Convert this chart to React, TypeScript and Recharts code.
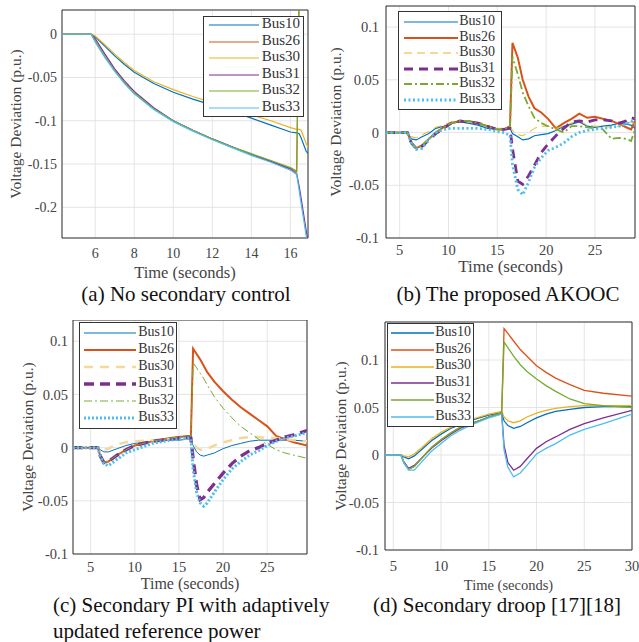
import React from 'react';
import { LineChart, Line, XAxis, YAxis, CartesianGrid, ReferenceArea } from 'recharts';

const BUSES = ['Bus10', 'Bus26', 'Bus30', 'Bus31', 'Bus32', 'Bus33'];
const COLORS: Record<string, string> = {
  Bus10: '#0072BD',
  Bus26: '#D95319',
  Bus30: '#EDB120',
  Bus31: '#7E2F8E',
  Bus32: '#77AC30',
  Bus33: '#4DBEEE',
};

// (a) No secondary control
const aTime = [4.3, 5.8, 6.0, 6.5, 7.0, 7.5, 8.0, 9.0, 10.0, 11.0, 12.0, 13.0, 14.0, 15.0, 16.0, 16.32, 16.45, 16.55, 16.8, 16.9];
const aBus10 = [0, 0, -0.003, -0.014, -0.025, -0.035, -0.044, -0.057, -0.067, -0.075, -0.082, -0.089, -0.097, -0.105, -0.113, -0.114, -0.115, -0.12, -0.135, -0.138];
const aBus26 = [0, 0, -0.008, -0.026, -0.042, -0.056, -0.068, -0.086, -0.1, -0.111, -0.121, -0.13, -0.139, -0.147, -0.155, -0.159, 0.05, 0.07, 0.08, 0.08];
const aBus30 = [0, 0, -0.002, -0.012, -0.023, -0.033, -0.042, -0.055, -0.064, -0.072, -0.079, -0.086, -0.093, -0.1, -0.108, -0.11, -0.11, -0.111, -0.126, -0.131];
const aBus31 = [0, 0, -0.005, -0.023, -0.04, -0.054, -0.066, -0.085, -0.1, -0.111, -0.121, -0.13, -0.139, -0.147, -0.156, -0.161, -0.176, -0.19, -0.226, -0.24];
const aBus32 = [0, 0, -0.008, -0.026, -0.042, -0.056, -0.068, -0.086, -0.1, -0.111, -0.121, -0.13, -0.138, -0.146, -0.154, -0.158, 0.06, 0.07, 0.08, 0.08];
const aBus33 = [0, 0, -0.009, -0.027, -0.043, -0.057, -0.069, -0.087, -0.101, -0.112, -0.122, -0.131, -0.14, -0.148, -0.157, -0.162, -0.181, -0.196, -0.232, -0.247];

// (b) The proposed AKOOC
const bTime = [3.6, 5.8, 6.2, 6.7, 7.3, 8.0, 8.7, 9.5, 10.3, 11.2, 12.0, 13.0, 14.0, 15.0, 15.7, 16.3, 16.55, 17.1, 17.6, 18.2, 18.8, 19.5, 20.2, 21.0, 21.8, 22.6, 23.4, 24.2, 25.0, 25.8, 26.7, 27.5, 28.2, 28.7, 29.1];
const bBus10 = [0, 0, -0.006, -0.007, -0.004, -0.001, 0.004, 0.006, 0.009, 0.01, 0.009, 0.007, 0.004, 0.003, 0.003, 0.004, -0.001, -0.004, -0.007, -0.006, -0.003, -0.002, -0.001, 0.002, 0.006, 0.008, 0.01, 0.006, 0.005, 0.006, 0.007, 0.009, 0.008, 0.007, 0.004];
const bBus26 = [0, 0, -0.01, -0.015, -0.012, -0.006, 0, 0.005, 0.009, 0.011, 0.011, 0.009, 0.006, 0.003, 0.003, 0.006, 0.085, 0.071, 0.05, 0.034, 0.023, 0.019, 0.013, 0.004, 0.009, 0.013, 0.018, 0.014, 0.015, 0.013, 0.011, 0.008, 0.005, 0.003, 0.011];
const bBus30 = [0, 0, -0.004, -0.005, -0.002, 0.001, 0.005, 0.007, 0.01, 0.011, 0.01, 0.008, 0.005, 0.004, 0.004, 0.006, 0.002, -0.002, -0.003, 0, 0.004, 0.006, 0.006, 0.004, 0.006, 0.009, 0.011, 0.007, 0.006, 0.006, 0.005, 0.006, 0.009, 0.01, 0.008];
const bBus31 = [0, 0, -0.01, -0.015, -0.013, -0.007, -0.001, 0.004, 0.009, 0.011, 0.01, 0.009, 0.006, 0.003, 0.003, 0.004, -0.015, -0.046, -0.049, -0.041, -0.031, -0.019, -0.011, -0.003, 0.004, 0.01, 0.011, 0.01, 0.012, 0.012, 0.011, 0.009, 0.011, 0.014, 0.013];
const bBus32 = [0, 0, -0.01, -0.015, -0.012, -0.006, 0, 0.005, 0.009, 0.011, 0.011, 0.009, 0.006, 0.003, 0.003, 0.006, 0.072, 0.055, 0.038, 0.025, 0.014, 0.009, 0.006, 0.003, 0, 0.006, 0.006, 0.005, 0.004, 0.003, -0.006, -0.005, -0.006, -0.008, 0.003];
const bBus33 = [0, 0, -0.01, -0.016, -0.015, -0.006, 0, 0.003, 0.004, 0.004, 0.004, 0.004, 0.003, 0.001, 0, -0.003, -0.03, -0.054, -0.059, -0.047, -0.033, -0.024, -0.017, -0.014, -0.01, -0.004, 0, 0.002, 0.003, 0.004, 0.005, 0.006, 0.008, 0.01, 0.013];

// (c) Secondary PI with adaptively updated reference power
const cTime = [3, 5.8, 6.1, 6.5, 7.0, 8.0, 9.0, 10.0, 12.0, 14.0, 15.0, 16.0, 16.35, 16.6, 17.0, 17.4, 17.8, 18.2, 19.0, 20.0, 21.0, 22.0, 23.0, 24.0, 25.0, 26.0, 27.0, 28.0, 29.5];
const cBus10 = [0, 0, -0.002, -0.004, -0.004, -0.001, 0.002, 0.004, 0.006, 0.007, 0.007, 0.008, 0.008, 0.002, -0.004, -0.007, -0.008, -0.007, -0.005, -0.001, 0.002, 0.004, 0.006, 0.007, 0.007, 0.007, 0.007, 0.007, 0.006];
const cBus26 = [0, 0, -0.008, -0.014, -0.013, -0.007, -0.002, 0.002, 0.006, 0.009, 0.01, 0.011, 0.011, 0.093, 0.088, 0.083, 0.077, 0.071, 0.062, 0.053, 0.045, 0.038, 0.032, 0.026, 0.02, 0.011, 0.008, 0.005, 0.002];
const cBus30 = [0, 0, -0.001, -0.002, -0.001, 0.003, 0.005, 0.006, 0.007, 0.008, 0.008, 0.009, 0.009, 0.004, 0, -0.002, -0.002, -0.001, 0.002, 0.005, 0.007, 0.009, 0.01, 0.01, 0.009, 0.009, 0.008, 0.007, 0.006];
const cBus31 = [0, 0, -0.008, -0.014, -0.013, -0.007, -0.002, 0.002, 0.006, 0.008, 0.009, 0.01, 0.009, -0.01, -0.035, -0.049, -0.047, -0.042, -0.034, -0.024, -0.015, -0.008, -0.003, 0, 0.004, 0.007, 0.01, 0.012, 0.016];
const cBus32 = [0, 0, -0.008, -0.014, -0.013, -0.007, -0.002, 0.002, 0.006, 0.009, 0.01, 0.011, 0.011, 0.08, 0.075, 0.07, 0.065, 0.059, 0.048, 0.037, 0.028, 0.02, 0.014, 0.008, 0.003, -0.002, -0.005, -0.007, -0.01];
const cBus33 = [0, 0, -0.008, -0.015, -0.017, -0.011, -0.005, -0.002, 0.004, 0.007, 0.008, 0.009, 0.008, -0.02, -0.042, -0.052, -0.055, -0.052, -0.042, -0.03, -0.02, -0.013, -0.007, -0.003, 0.002, 0.006, 0.009, 0.011, 0.014];

// (d) Secondary droop
const dTime = [4.1, 5.8, 6.1, 6.6, 7.2, 8.0, 9.0, 10.0, 11.0, 12.0, 13.0, 14.0, 15.0, 16.0, 16.35, 16.6, 17.0, 17.6, 18.3, 19.0, 20.0, 21.0, 22.0, 23.5, 25.0, 27.0, 30.0];
const dBus10 = [0, 0, -0.002, -0.004, -0.001, 0.006, 0.015, 0.022, 0.028, 0.032, 0.036, 0.039, 0.042, 0.044, 0.045, 0.036, 0.031, 0.028, 0.03, 0.034, 0.039, 0.043, 0.046, 0.048, 0.05, 0.051, 0.051];
const dBus26 = [0, 0, -0.008, -0.015, -0.012, -0.003, 0.008, 0.016, 0.023, 0.029, 0.033, 0.036, 0.04, 0.043, 0.044, 0.133, 0.128, 0.12, 0.111, 0.104, 0.094, 0.087, 0.081, 0.074, 0.068, 0.065, 0.062];
const dBus30 = [0, 0, -0.001, -0.002, 0.001, 0.008, 0.017, 0.024, 0.029, 0.033, 0.037, 0.04, 0.043, 0.045, 0.046, 0.04, 0.036, 0.034, 0.036, 0.04, 0.044, 0.047, 0.049, 0.051, 0.052, 0.052, 0.052];
const dBus31 = [0, 0, -0.007, -0.014, -0.011, -0.003, 0.007, 0.015, 0.022, 0.028, 0.032, 0.036, 0.04, 0.043, 0.044, 0.01, -0.008, -0.016, -0.012, -0.004, 0.007, 0.014, 0.019, 0.027, 0.033, 0.039, 0.047];
const dBus32 = [0, 0, -0.008, -0.015, -0.012, -0.003, 0.008, 0.016, 0.023, 0.029, 0.033, 0.036, 0.04, 0.043, 0.044, 0.119, 0.113, 0.104, 0.095, 0.088, 0.08, 0.073, 0.067, 0.059, 0.054, 0.052, 0.05];
const dBus33 = [0, 0, -0.008, -0.016, -0.016, -0.007, 0.004, 0.012, 0.02, 0.026, 0.031, 0.035, 0.039, 0.042, 0.043, 0.005, -0.013, -0.023, -0.019, -0.011, 0.001, 0.007, 0.012, 0.021, 0.027, 0.033, 0.043];

const tickBC = [5, 10, 15, 20, 25];
const tickD = [5, 10, 15, 20, 25, 30];
const tickA = [6, 8, 10, 12, 14, 16];
const yTicksA = [-0.2, -0.15, -0.1, -0.05, 0];
const yTicksBCD = [-0.1, -0.05, 0, 0.05, 0.1];

type Style = { w: number; dash?: string; color?: string };

const toRows = (time: number[], series: number[][]) =>
  time.map((t, i) => {
    const row: Record<string, number> = { t };
    BUSES.forEach((b, k) => (row[b] = series[k][i]));
    return row;
  });

const solid = (w: number): Record<string, Style> =>
  Object.fromEntries(BUSES.map((b) => [b, { w }]));

const stylesB: Record<string, Style> = {
  Bus10: { w: 1.2 },
  Bus26: { w: 2 },
  Bus30: { w: 1, dash: '8 5' },
  Bus31: { w: 2.8, dash: '9 6' },
  Bus32: { w: 1.8, dash: '8 3 2 3' },
  Bus33: { w: 2.8, dash: '2 2.5' },
};
const stylesC: Record<string, Style> = {
  Bus10: { w: 1 },
  Bus26: { w: 2 },
  Bus30: { w: 2.5, dash: '9 7', color: '#F5D79E' },
  Bus31: { w: 3.3, dash: '10 6' },
  Bus32: { w: 1, dash: '8 3 2 3' },
  Bus33: { w: 3, dash: '2 2' },
};

const fmt = (v: number) => (Math.abs(v) < 1e-9 ? '0' : String(+v.toFixed(3)));

const FONT = '"Liberation Serif", "DejaVu Serif", "Times New Roman", Times, serif';
const TXT = '#444';
const Y_W = 50;

interface PanelProps {
  box: { left: number; top: number; width: number; height: number };
  plot: { left: number; top: number; right: number; bottom: number };
  rows: Record<string, number>[];
  styles: Record<string, Style>;
  xDomain: [number, number];
  xTicks: number[];
  yDomain: [number, number];
  yTicks: number[];
  tickFont: number;
  xTickGap: number;
  yTickGap: number;
  xTitleH: number;
  xTitleFont: number;
  yTitleX: number;
  legend: { left: number; top: number; width: number; height: number; row0: number; step: number; l1: number; l2: number; textRight: number; font: number };
}

const Panel = (p: PanelProps) => {
  const { box, plot, legend: lg } = p;
  const margin = {
    left: plot.left - box.left - Y_W,
    top: plot.top - box.top,
    right: box.left + box.width - plot.right,
    bottom: box.top + box.height - plot.bottom - p.xTitleH,
  };
  return (
    <div style={{ position: 'absolute', left: box.left, top: box.top, width: box.width, height: box.height }}>
      <LineChart width={box.width} height={box.height} data={p.rows} margin={margin} style={{ fontFamily: FONT }}>
        <CartesianGrid stroke="#dedede" strokeWidth={0.8} />
        <XAxis
          dataKey="t"
          type="number"
          domain={p.xDomain}
          ticks={p.xTicks}
          interval={0}
          allowDataOverflow
          axisLine={false}
          tickLine={false}
          tickSize={0}
          tickMargin={p.xTickGap}
          height={p.xTitleH}
          tick={{ fontSize: p.tickFont, fill: TXT, fontFamily: FONT }}
          label={{ value: 'Time (seconds)', position: 'insideBottom', offset: 0, fontSize: p.xTitleFont, fill: TXT, fontFamily: FONT }}
        />
        <YAxis
          type="number"
          domain={p.yDomain}
          ticks={p.yTicks}
          interval={0}
          allowDataOverflow
          axisLine={false}
          tickLine={false}
          tickSize={0}
          tickMargin={p.yTickGap}
          width={Y_W}
          tickFormatter={fmt}
          tick={{ fontSize: p.tickFont, fill: TXT, fontFamily: FONT }}
          label={{
            value: 'Voltage Deviation (p.u.)',
            angle: -90,
            position: 'insideLeft',
            offset: p.yTitleX - (plot.left - Y_W),
            fontSize: 15.5,
            fill: TXT,
            fontFamily: FONT,
            style: { textAnchor: 'middle' },
          }}
        />
        {BUSES.map((b) => {
          const s = p.styles[b];
          return (
            <Line
              key={b}
              dataKey={b}
              type="linear"
              stroke={s.color || COLORS[b]}
              strokeWidth={s.w}
              strokeDasharray={s.dash}
              dot={false}
              activeDot={false}
              isAnimationActive={false}
            />
          );
        })}
        <ReferenceArea x1={p.xDomain[0]} x2={p.xDomain[1]} y1={p.yDomain[0]} y2={p.yDomain[1]} fill="none" stroke="#333" strokeWidth={1} fillOpacity={0} />
      </LineChart>
      <div
        style={{
          position: 'absolute',
          left: lg.left - box.left,
          top: lg.top - box.top,
          width: lg.width,
          height: lg.height,
          boxSizing: 'border-box',
          border: '1px solid #333',
          background: '#fff',
        }}
      >
        {BUSES.map((b, i) => {
          const s = p.styles[b];
          const y = lg.row0 - lg.top + i * lg.step - 1;
          return (
            <React.Fragment key={b}>
              <svg style={{ position: 'absolute', left: 0, top: y - 5 }} width={lg.width} height={10}>
                <line x1={lg.l1} x2={lg.l2} y1={5} y2={5} stroke={s.color || COLORS[b]} strokeWidth={s.w} strokeDasharray={s.dash} />
              </svg>
              <div
                style={{
                  position: 'absolute',
                  right: lg.width - lg.textRight,
                  top: y - lg.font * 0.58,
                  fontFamily: FONT,
                  fontSize: lg.font,
                  lineHeight: `${lg.font}px`,
                  color: '#333',
                  whiteSpace: 'nowrap',
                }}
              >
                {b}
              </div>
            </React.Fragment>
          );
        })}
      </div>
    </div>
  );
};

const Caption = ({ text, cx, left, cy, size = 21 }: { text: string; cx?: number; left?: number; cy: number; size?: number }) => (
  <div
    style={{
      position: 'absolute',
      left: cx !== undefined ? cx - 200 : left,
      width: cx !== undefined ? 400 : undefined,
      textAlign: cx !== undefined ? 'center' : 'left',
      top: cy - size * 0.55,
      fontFamily: FONT,
      fontSize: size,
      lineHeight: `${size}px`,
      color: '#111',
      whiteSpace: 'nowrap',
    }}
  >
    {text}
  </div>
);

export default function App() {
  const rowsA = toRows(aTime, [aBus10, aBus26, aBus30, aBus31, aBus32, aBus33]);
  const rowsB = toRows(bTime, [bBus10, bBus26, bBus30, bBus31, bBus32, bBus33]);
  const rowsC = toRows(cTime, [cBus10, cBus26, cBus30, cBus31, cBus32, cBus33]);
  const rowsD = toRows(dTime, [dBus10, dBus26, dBus30, dBus31, dBus32, dBus33]);

  return (
    <div style={{ position: 'absolute', left: 0, top: 0, width: 639, height: 642, background: '#fff', overflow: 'hidden', fontFamily: FONT }}>
      <Panel
        box={{ left: 0, top: 0, width: 320, height: 320 }}
        plot={{ left: 62, top: 10, right: 308, bottom: 238 }}
        rows={rowsA}
        styles={solid(1.2)}
        xDomain={[4.3, 16.9]}
        xTicks={tickA}
        yDomain={[-0.2355, 0.028]}
        yTicks={yTicksA}
        tickFont={14}
        xTickGap={10}
        yTickGap={5}
        xTitleH={40}
        xTitleFont={16.5}
        yTitleX={15}
        legend={{ left: 203, top: 16, width: 101, height: 101, row0: 25, step: 16.5, l1: 5, l2: 55, textRight: 98, font: 15 }}
      />
      <Panel
        box={{ left: 320, top: 0, width: 319, height: 320 }}
        plot={{ left: 386, top: 6, right: 635, bottom: 238 }}
        rows={rowsB}
        styles={stylesB}
        xDomain={[3.6, 29.1]}
        xTicks={tickBC}
        yDomain={[-0.1, 0.12]}
        yTicks={yTicksBCD}
        tickFont={14.5}
        xTickGap={7}
        yTickGap={7}
        xTitleH={34}
        xTitleFont={17}
        yTitleX={335}
        legend={{ left: 398, top: 11, width: 104, height: 99, row0: 22.3, step: 15.5, l1: 5, l2: 59, textRight: 98, font: 14 }}
      />
      <Panel
        box={{ left: 0, top: 320, width: 320, height: 322 }}
        plot={{ left: 73, top: 320, right: 307, bottom: 554 }}
        rows={rowsC}
        styles={stylesC}
        xDomain={[3, 29.5]}
        xTicks={tickBC}
        yDomain={[-0.1, 0.12]}
        yTicks={yTicksBCD}
        tickFont={14.5}
        xTickGap={8}
        yTickGap={5}
        xTitleH={34.5}
        xTitleFont={16}
        yTitleX={27}
        legend={{ left: 79, top: 322, width: 98, height: 107, row0: 333.3, step: 17, l1: 4, l2: 56, textRight: 96, font: 14 }}
      />
      <Panel
        box={{ left: 320, top: 320, width: 319, height: 322 }}
        plot={{ left: 385, top: 322, right: 632, bottom: 550 }}
        rows={rowsD}
        styles={solid(1.3)}
        xDomain={[4.13, 30]}
        xTicks={tickD}
        yDomain={[-0.1, 0.14]}
        yTicks={yTicksBCD}
        tickFont={14.5}
        xTickGap={11}
        yTickGap={6}
        xTitleH={40}
        xTitleFont={14.5}
        yTitleX={340}
        legend={{ left: 387, top: 323, width: 87, height: 104, row0: 333, step: 16.8, l1: 3, l2: 46, textRight: 85, font: 14 }}
      />
      <Caption text="(a) No secondary control" cx={186} cy={296} />
      <Caption text="(b) The proposed AKOOC" cx={508} cy={296} />
      <Caption text="(c) Secondary PI with adaptively" left={53} cy={606.5} />
      <Caption text="updated reference power" left={53} cy={632.5} />
      <Caption text="(d) Secondary droop [17][18]" cx={497} cy={607} />
    </div>
  );
}
